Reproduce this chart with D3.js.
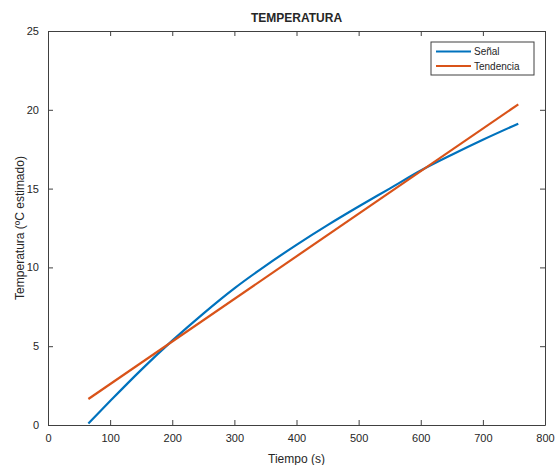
<!DOCTYPE html>
<meta charset="utf-8">
<script src="https://d3js.org/d3.v7.min.js"></script>
<style>
  body { margin: 0; background: #fff; }
  text { font-family: "Liberation Sans", Arial, sans-serif; fill: #262626; }
</style>
<div id="chart"></div>
<script>
    // values
    let senalTime = [65, 100, 150, 200, 250, 300, 350, 400, 450, 500, 550, 600, 650, 700, 757];
    let senalTemp = [0.1, 1.52, 3.5, 5.35, 7.07, 8.67, 10.1, 11.43, 12.68, 13.86, 15.0, 16.15, 17.15, 18.1, 19.12];
    let tendTime = [65, 757];
    let tendTemp = [1.65, 20.35];
    let xTicks = [0, 100, 200, 300, 400, 500, 600, 700, 800];
    let yTicks = [0, 5, 10, 15, 20, 25];
    let seriesNames = ["Señal", "Tendencia"];
    let colors = ["#0072BD", "#D95319"];

    let margin = { top: 31, right: 10, bottom: 40, left: 48 },
        width = 555 - margin.left - margin.right,
        height = 465 - margin.top - margin.bottom;

    let svg = d3.select("#chart")
        .append("svg")
        .attr("width", 555)
        .attr("height", 465)
        .append("g")
        .attr("transform", "translate(" + margin.left + "," + margin.top + ")");

    let x = d3.scaleLinear().domain([0, 800]).range([0, width]);
    let y = d3.scaleLinear().domain([0, 25]).range([height, 0]);

    // axes, ticks inward on all sides
    function styleAxis(g) {
        g.selectAll("path, line").attr("stroke", "#404040");
        g.selectAll("text").style("font-size", "11px").attr("fill", "#262626")
            .style("font-family", "'Liberation Sans', Arial, sans-serif");
    }
    svg.append("g")
        .attr("transform", "translate(0," + height + ")")
        .call(d3.axisBottom(x).tickValues(xTicks).tickSizeInner(-5).tickSizeOuter(0).tickPadding(9))
        .call(styleAxis);
    svg.append("g")
        .call(d3.axisTop(x).tickValues(xTicks).tickSizeInner(-5).tickSizeOuter(0).tickFormat(""))
        .call(styleAxis);
    svg.append("g")
        .call(d3.axisLeft(y).tickValues(yTicks).tickSizeInner(-5).tickSizeOuter(0).tickPadding(9))
        .call(styleAxis);
    svg.append("g")
        .attr("transform", "translate(" + width + ",0)")
        .call(d3.axisRight(y).tickValues(yTicks).tickSizeInner(-5).tickSizeOuter(0).tickFormat(""))
        .call(styleAxis);

    let line = d3.line()
        .x(d => x(d[0]))
        .y(d => y(d[1]))
        .curve(d3.curveMonotoneX);

    let senal = senalTime.map((t, i) => [t, senalTemp[i]]);
    let tend = tendTime.map((t, i) => [t, tendTemp[i]]);

    svg.append("path").datum(senal)
        .attr("fill", "none").attr("stroke", colors[0]).attr("stroke-width", 2.2)
        .attr("d", line);
    svg.append("path").datum(tend)
        .attr("fill", "none").attr("stroke", colors[1]).attr("stroke-width", 2.2)
        .attr("d", line);

    // title and labels
    svg.append("text")
        .attr("x", width / 2).attr("y", -9)
        .attr("text-anchor", "middle")
        .style("font-size", "12px").style("font-weight", "bold")
        .text("TEMPERATURA");
    svg.append("text")
        .attr("x", width / 2).attr("y", height + 38)
        .attr("text-anchor", "middle")
        .style("font-size", "12px")
        .text("Tiempo (s)");
    svg.append("text")
        .attr("transform", "translate(-24," + (height / 2) + ") rotate(-90)")
        .attr("text-anchor", "middle")
        .style("font-size", "12px")
        .text("Temperatura (ºC estimado)");

    // legend
    let lg = svg.append("g").attr("transform", "translate(" + (width - 114) + ",11)");
    lg.append("rect")
        .attr("width", 103).attr("height", 33)
        .attr("fill", "#fff").attr("stroke", "#404040").attr("stroke-width", 1);
    let item = lg.selectAll(".legend")
        .data(seriesNames)
        .enter().append("g")
        .attr("class", "legend")
        .attr("transform", (d, i) => "translate(0," + (9.5 + i * 14.5) + ")");
    item.append("line")
        .attr("x1", 5).attr("x2", 40)
        .attr("stroke", (d, i) => colors[i]).attr("stroke-width", 2.2);
    item.append("text")
        .attr("x", 43).attr("dy", "0.35em")
        .style("font-size", "10px")
        .text(d => d);
</script>
